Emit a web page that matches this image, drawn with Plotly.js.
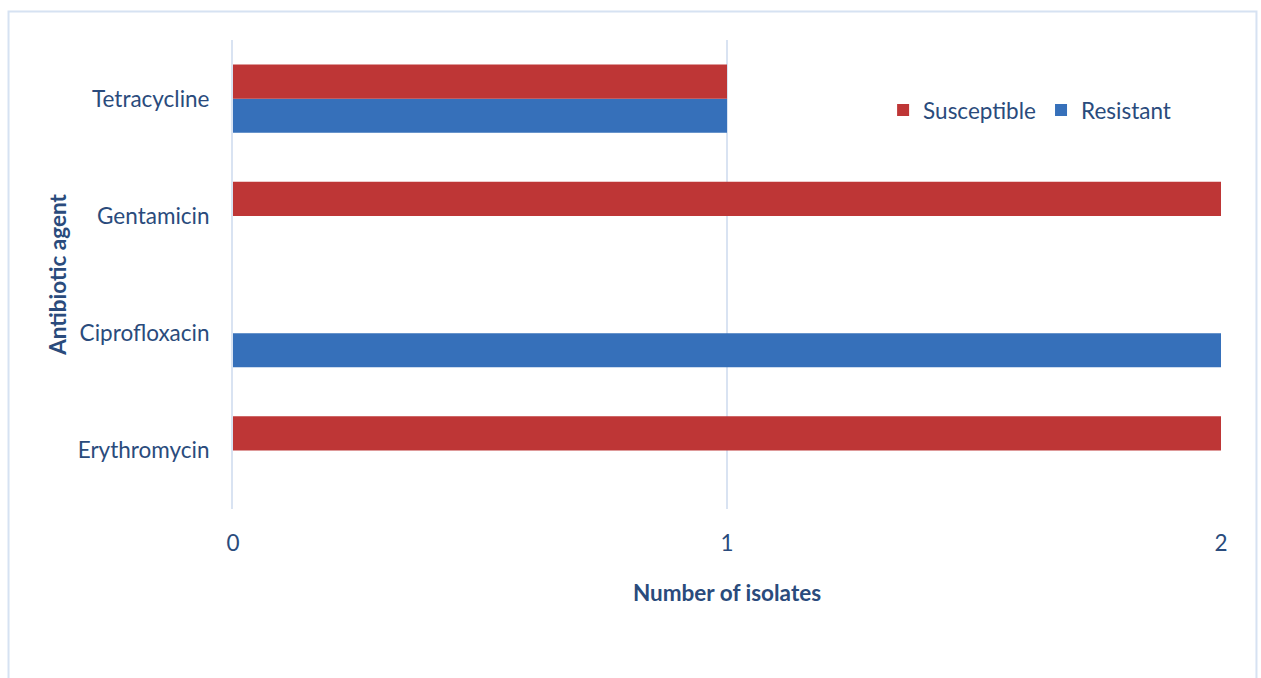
<!DOCTYPE html>
<html>
<head>
<meta charset="utf-8">
<script src="https://cdn.plot.ly/plotly-3.0.1.min.js"></script>
<style>html,body{margin:0;padding:0;background:#fff;}#chart{width:1261px;height:678px;}</style>
</head>
<body>
<div id="chart"></div>
<script>
const categories = ["Erythromycin", "Ciprofloxacin", "Gentamicin", "Tetracycline"];
const susceptible = [2, 0, 2, 1];
const resistant = [0, 2, 0, 1];
const xTicks = [0, 1, 2];

const textColor = "#2A4B7C";
const font = "Lato, 'Open Sans', sans-serif";
const fs = 22.5;

const traces = [
  {type: "bar", orientation: "h", name: "Resistant", y: categories, x: resistant,
   marker: {color: "#3670BA"}, hoverinfo: "x+y+name"},
  {type: "bar", orientation: "h", name: "Susceptible", y: categories, x: susceptible,
   marker: {color: "#BE3636"}, hoverinfo: "x+y+name"}
];

const layout = {
  width: 1261, height: 678,
  margin: {l: 233, r: 40, t: 40, b: 169},
  paper_bgcolor: "#fff", plot_bgcolor: "#fff",
  barmode: "group", bargap: 0.42, bargroupgap: 0,
  font: {family: font, color: textColor, size: fs},
  showlegend: true,
  legend: {orientation: "h", traceorder: "reversed", x: 0.658, y: 0.85, yanchor: "middle", xanchor: "left",
           font: {size: fs, color: textColor}, itemwidth: 30},
  xaxis: {range: [0, 2], tickvals: xTicks, ticktext: xTicks.map(String), showgrid: true,
          gridcolor: "#D9E3F2", gridwidth: 2, zeroline: false, showline: false,
          ticks: "", ticklabelstandoff: 18, tickfont: {size: fs, color: textColor},
          title: {text: "<b>Number of isolates</b>", font: {size: fs, color: textColor}, standoff: 30}},
  yaxis: {categoryorder: "array", categoryarray: categories, showgrid: false, zeroline: false,
          showline: true, linecolor: "#D9E3F2", linewidth: 2, ticks: "", ticklabelstandoff: 17,
          tickfont: {size: fs, color: textColor},
          title: {text: "<b>Antibiotic agent</b>", font: {size: fs, color: textColor}, standoff: 5}},
  shapes: [{type: "rect", xref: "paper", yref: "paper", x0: -0.2272, x1: 1.0359, y0: -0.4, y1: 1.0608,
            line: {color: "#D6E2F2", width: 2}, fillcolor: "rgba(0,0,0,0)", layer: "below"}]
};

Plotly.newPlot("chart", traces, layout, {displayModeBar: false, responsive: false});
</script>
</body>
</html>
